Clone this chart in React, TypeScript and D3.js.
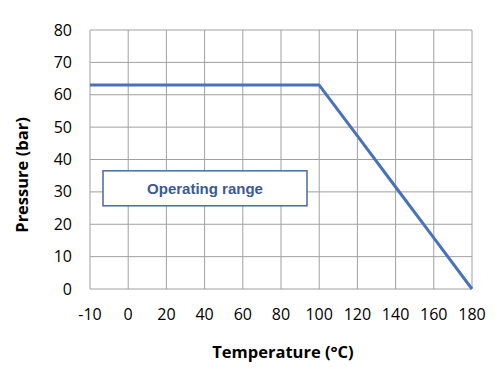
import React from "react";
import * as d3 from "d3";

const categories = ["-10", "0", "20", "40", "60", "80", "100", "120", "140", "160", "180"];
const pressure = [63, 63, 63, 63, 63, 63, 63, 47.3, 31.5, 15.8, 0];
const yTicks = [0, 10, 20, 30, 40, 50, 60, 70, 80];
const boxLabel = "Operating range";
const boxRange = { x0: 103, x1: 307 };
const boxValues = { top: 36.5, bottom: 25.7 };

export default function App() {
  const W = 500, H = 375;
  const left = 90, right = 472, top = 30, bottom = 289;
  const x = d3.scalePoint<string>().domain(categories).range([left, right]);
  const y = d3.scaleLinear().domain([0, 80]).range([bottom, top]);
  const line = d3.line<number>().x((_, i) => x(categories[i])!).y((d) => y(d));
  const font = "'Open Sans', 'Noto Sans', sans-serif";
  const grid = "#a0a0a0";
  const blue = "#4a72b8";
  return (
    <svg width={W} height={H} style={{ position: "absolute", left: 0, top: 0 }}>
      <rect width={W} height={H} fill="#fff" />
      {yTicks.map((t) => (
        <line key={"h" + t} x1={left} x2={right} y1={y(t)} y2={y(t)} stroke={grid} strokeWidth={1} />
      ))}
      {categories.map((c) => (
        <line key={"v" + c} x1={x(c)} x2={x(c)} y1={top} y2={bottom} stroke={grid} strokeWidth={1} />
      ))}
      {yTicks.map((t) => (
        <text key={"yt" + t} x={72} y={y(t)} dy="0.35em" textAnchor="end" fontSize={16} fontFamily={font} fill="#000">
          {t}
        </text>
      ))}
      {categories.map((c) => (
        <text key={"xt" + c} x={x(c)} y={314} dy="0.35em" textAnchor="middle" fontSize={16} fontFamily={font} fill="#000">
          {c}
        </text>
      ))}
      <path d={line(pressure) || ""} fill="none" stroke={blue} strokeWidth={3} strokeLinejoin="round" />
      <rect
        x={boxRange.x0}
        y={y(boxValues.top)}
        width={boxRange.x1 - boxRange.x0}
        height={y(boxValues.bottom) - y(boxValues.top)}
        fill="#fff"
        stroke="#4a6a9c"
        strokeWidth={1.5}
      />
      <text
        x={(boxRange.x0 + boxRange.x1) / 2}
        y={(y(boxValues.top) + y(boxValues.bottom)) / 2}
        dy="0.35em"
        textAnchor="middle"
        fontSize={15}
        fontWeight="bold"
        fontFamily="'Liberation Sans Narrow', 'Liberation Sans', Arial, sans-serif"
        fill="#3a5a94"
      >
        {boxLabel}
      </text>
      <text x={283} y={352} dy="0.35em" textAnchor="middle" fontSize={16.5} fontWeight="bold" fontFamily={font} fill="#000">
        Temperature (°C)
      </text>
      <text
        transform="translate(22,175) rotate(-90)"
        dy="0.35em"
        textAnchor="middle"
        fontSize={16.5}
        fontWeight="bold"
        fontFamily={font}
        fill="#000"
      >
        Pressure (bar)
      </text>
    </svg>
  );
}
